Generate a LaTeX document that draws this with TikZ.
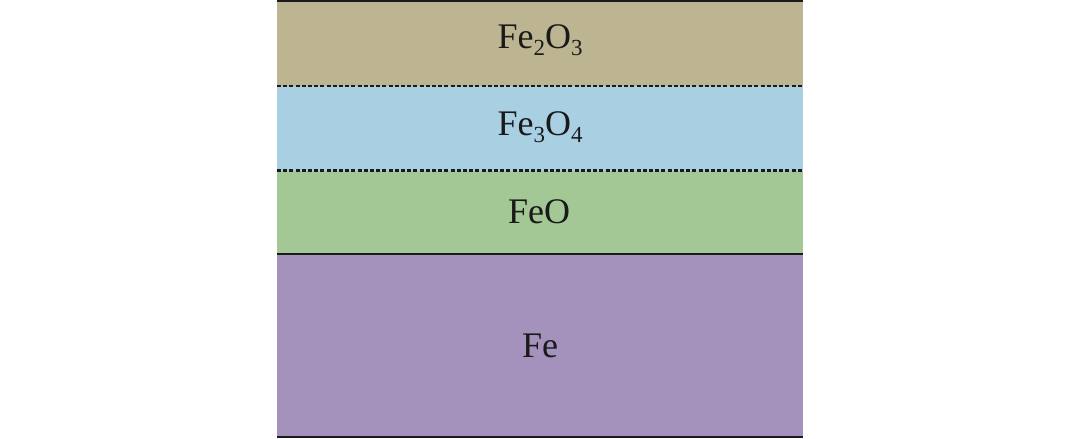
\documentclass[tikz,border=0pt]{standalone}
\usepackage{fontspec}
\setmainfont{Liberation Serif}
\definecolor{tanc}{RGB}{189,180,145}
\definecolor{bluec}{RGB}{169,207,227}
\definecolor{greenc}{RGB}{163,200,150}
\definecolor{purplec}{RGB}{164,146,189}
\definecolor{inkc}{RGB}{26,26,26}
\newcommand\subdig[1]{\raisebox{-7pt}{\fontsize{23}{23}\selectfont #1}}
\begin{document}
\begin{tikzpicture}[x=1pt,y=-1pt,
  layer/.style={draw=none,inner sep=0pt,outer sep=0pt,minimum width=526pt,anchor=north west},
  lbl/.style={anchor=base,inner sep=0pt,text=inkc,font=\fontsize{36}{40}\selectfont},
  solidline/.style={draw=inkc,line width=2.4pt},
  dotline/.style={draw=inkc,line width=2.5pt,dash pattern=on 4pt off 2.2pt}]
\useasboundingbox (0,0) rectangle (1080,439);
\node[layer,fill=tanc,minimum height=86pt] (l1) at (277,0) {};
\node[layer,fill=bluec,minimum height=85pt] (l2) at (277,86) {};
\node[layer,fill=greenc,minimum height=84pt] (l3) at (277,170.5) {};
\node[layer,fill=purplec,minimum height=183pt] (l4) at (277,254) {};
\node[lbl] (t1) at (540,48) {Fe\subdig{2}O\subdig{3}};
\node[lbl] (t2) at (540,135) {Fe\subdig{3}O\subdig{4}};
\node[lbl] (t3) at (539,223) {FeO};
\node[lbl] (t4) at (540,357) {Fe};
\draw[solidline] ([yshift=-1.2pt]l1.north west) -- ([yshift=-1.2pt]l1.north east);
\draw[dotline] (l2.north west) -- (l2.north east);
\draw[dotline] (l3.north west) -- (l3.north east);
\draw[solidline] (l4.north west) -- (l4.north east);
\draw[solidline] (l4.south west) -- (l4.south east);
\end{tikzpicture}
\end{document}
